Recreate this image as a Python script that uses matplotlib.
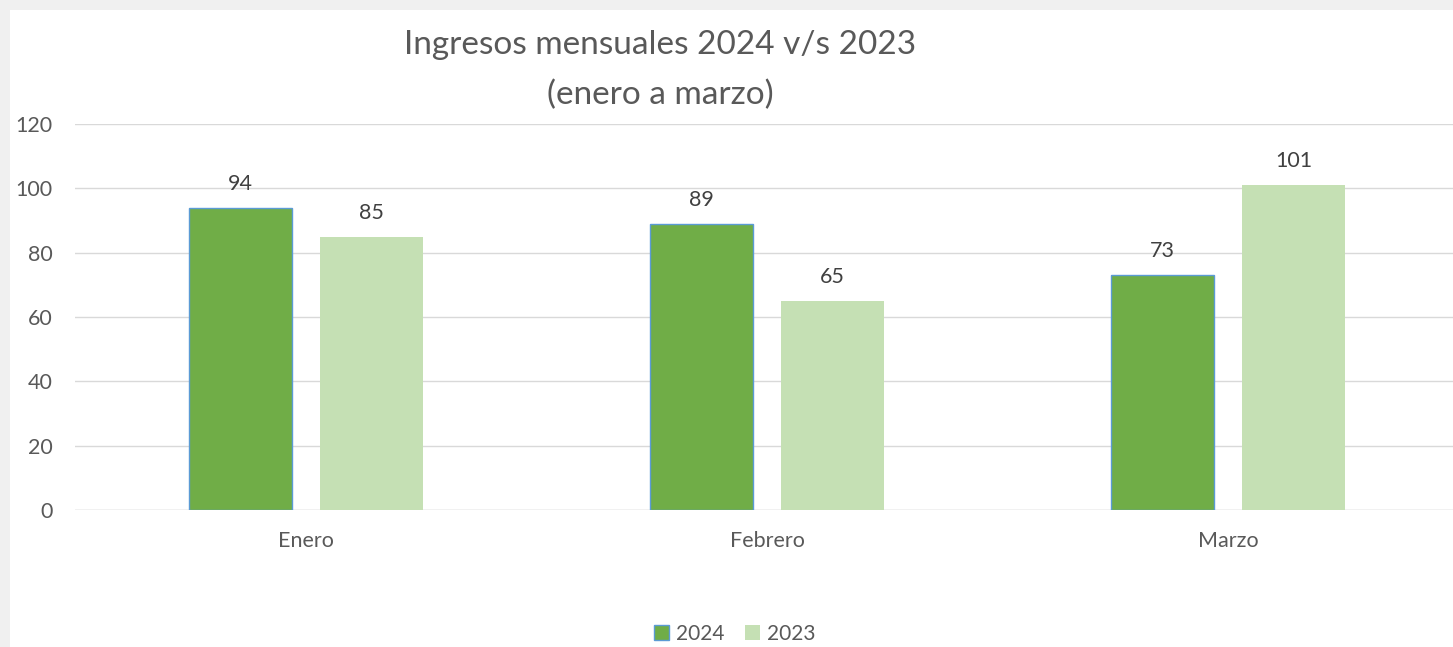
import numpy as np
import matplotlib.pyplot as plt
from matplotlib.patches import Rectangle

plt.rcParams['font.family'] = ['Lato', 'DejaVu Sans']

meses = ['Enero', 'Febrero', 'Marzo']
ingresos_2024 = [94, 89, 73]
ingresos_2023 = [85, 65, 101]
series = ['2024', '2023']
yticks = [0, 20, 40, 60, 80, 100, 120]

gris = '#595959'
W, H = 1453, 647
fig = plt.figure(figsize=(W / 100, H / 100), dpi=100, facecolor='#f0f0f0')
# white chart area (screenshot frame on top/left)
fig.patches.append(Rectangle((10 / W, 0), 1, 1 - 10 / H, transform=fig.transFigure,
                             facecolor='white', edgecolor='none', zorder=-5))

ax = fig.add_axes([75 / W, 1 - 510 / H, (1459 - 75) / W, (510 - 124) / H])
ax.set_facecolor('none')

x = np.arange(len(meses))
w = 0.223
off = 0.142
b1 = ax.bar(x - off, ingresos_2024, w, color='#70AD47', edgecolor='#5B9BD5',
            linewidth=1.0, label=series[0], zorder=3)
b2 = ax.bar(x + off, ingresos_2023, w, color='#C5E0B4', edgecolor='none',
            label=series[1], zorder=3)

for bars in (b1, b2):
    for r in bars:
        ax.annotate(f'{r.get_height():.0f}', (r.get_x() + r.get_width() / 2, r.get_height()),
                    xytext=(0, 10), textcoords='offset points', ha='center', va='bottom',
                    fontsize=15.5, color='#404040')

ax.set_xlim(-0.5, 2.5)
ax.set_ylim(0, 120)
ax.set_yticks(yticks)
ax.yaxis.grid(True, color='#d9d9d9', linewidth=1, zorder=0)
ax.set_axisbelow(True)
for s in ax.spines.values():
    s.set_visible(False)
ax.tick_params(axis='both', length=0, labelsize=15.5, labelcolor=gris)
ax.tick_params(axis='y', pad=16)
ax.tick_params(axis='x', pad=15)
ax.set_xticks(x)
ax.set_xticklabels(meses)
ax.axhline(0, color='#d9d9d9', linewidth=1, zorder=1)

fig.text(660 / W, 1 - 45 / H, 'Ingresos mensuales 2024 v/s 2023', ha='center', va='center',
         fontsize=24, color=gris)
fig.text(660 / W, 1 - 95 / H, '(enero a marzo)', ha='center', va='center',
         fontsize=24, color=gris)

fig.legend(handles=[b1, b2], labels=series, loc='center', bbox_to_anchor=(735 / W, 1 - 634 / H),
           ncol=2, frameon=False, fontsize=15, labelcolor=gris, handlelength=0.7,
           handleheight=0.7, handletextpad=0.35, columnspacing=1.0)

fig.savefig('out.png', dpi=100, facecolor=fig.get_facecolor())
